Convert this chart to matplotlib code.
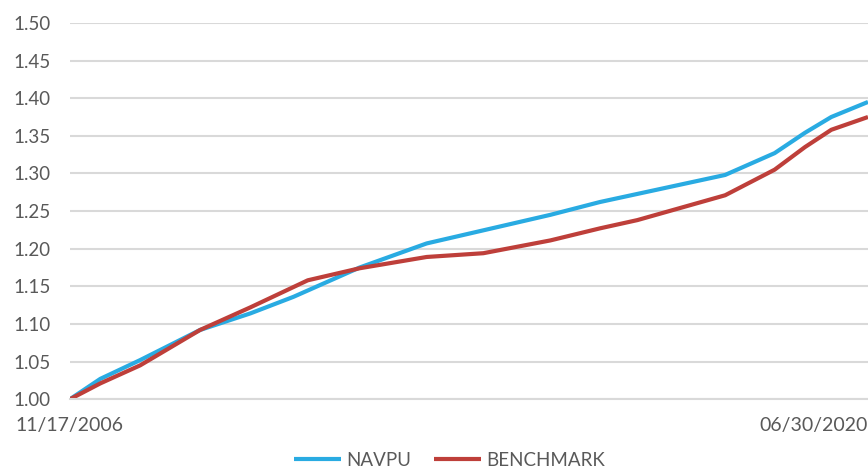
import matplotlib.pyplot as plt

# position along the period (0 = 11/17/2006, 100 = 06/30/2020)
navpu_x = [0, 3.8, 8.8, 16.3, 22.6, 28.0, 36.3, 44.7, 60.2, 66.4, 82.1, 88.3, 92.1, 95.4, 100]
navpu_y = [1.000, 1.027, 1.052, 1.092, 1.114, 1.136, 1.175, 1.207, 1.245, 1.262, 1.298, 1.327, 1.354, 1.375, 1.395]

bench_x = [0, 3.8, 8.8, 16.3, 22.6, 29.8, 36.3, 44.7, 51.8, 60.2, 66.4, 71.1, 82.1, 88.3, 92.1, 95.4, 100]
bench_y = [1.000, 1.021, 1.045, 1.092, 1.122, 1.158, 1.174, 1.189, 1.194, 1.211, 1.227, 1.238, 1.271, 1.305, 1.335, 1.358, 1.375]

x_ticks = [0, 100]
x_labels = ["11/17/2006", "06/30/2020"]
y_ticks = [1.00, 1.05, 1.10, 1.15, 1.20, 1.25, 1.30, 1.35, 1.40, 1.45, 1.50]

plt.rcParams['font.family'] = ['Lato', 'DejaVu Sans']

fig = plt.figure(figsize=(8.68, 4.68), dpi=100)
ax = fig.add_axes([0.0806, 0.147, 0.9194, 0.804])

ax.plot(navpu_x, navpu_y, color="#29abe2", linewidth=3, label="NAVPU", solid_capstyle="butt")
ax.plot(bench_x, bench_y, color="#be3f3a", linewidth=3, label="BENCHMARK", solid_capstyle="butt")

ax.set_xlim(0, 100)
ax.set_ylim(1.00, 1.50)
ax.set_yticks(y_ticks)
ax.set_yticklabels([f"{v:.2f}" for v in y_ticks])
ax.set_xticks(x_ticks)
xl = ax.set_xticklabels(x_labels)
xl[0].set_ha("center")
xl[1].set_ha("right")

ax.grid(axis="y", color="#d9d9d9", linewidth=1.5)
ax.set_axisbelow(True)
for s in ["top", "right", "left"]:
    ax.spines[s].set_visible(False)
ax.spines["bottom"].set_color("#d9d9d9")
ax.spines["bottom"].set_linewidth(1.5)
ax.tick_params(axis="both", length=0, labelcolor="#595959")
ax.tick_params(axis="y", pad=14, labelsize=13.5)
ax.tick_params(axis="x", pad=13, labelsize=14)

fig.legend(loc="center", bbox_to_anchor=(0.518, 0.017), ncol=2, frameon=False,
           fontsize=13.5, labelcolor="#595959", handlelength=2.5, handletextpad=0.3,
           columnspacing=1.2)

fig.savefig("out.png", dpi=100)
